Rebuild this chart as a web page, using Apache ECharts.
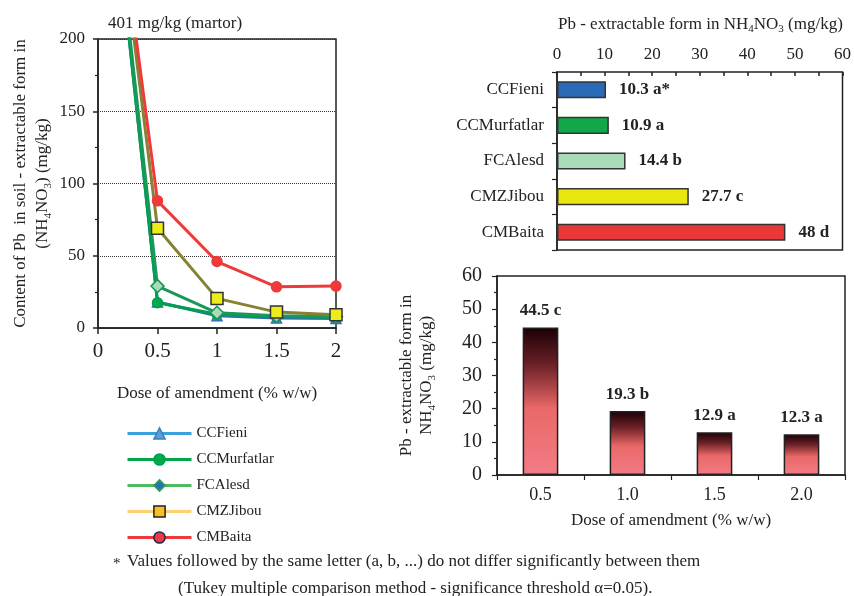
<!DOCTYPE html>
<html><head><meta charset="utf-8">
<script src="https://cdn.jsdelivr.net/npm/echarts@6/dist/echarts.min.js"></script>
<style>html,body{margin:0;padding:0;background:#fff}#c{width:854px;height:596px}</style>
</head><body><div id="c"></div>
<script>
// ---- data ----
var doses = [0, 0.5, 1, 1.5, 2];
var lineNames = ['CCFieni', 'CCMurfatlar', 'FCAlesd', 'CMZJibou', 'CMBaita'];
var ccFieni = [401, 18, 8.5, 7, 6.5];
var ccMurfatlar = [401, 17.5, 9.5, 8, 7.5];
var fcAlesd = [401, 29, 10.5, 8.5, 8];
var cmzJibou = [401, 69, 20.5, 11, 9.2];
var cmBaita = [401, 88, 46, 28.5, 29];

var amendments = ['CCFieni', 'CCMurfatlar', 'FCAlesd', 'CMZJibou', 'CMBaita'];
var amendmentMeans = [10.3, 10.9, 14.4, 27.7, 48];
var amendmentLetters = ['a*', 'a', 'b', 'c', 'd'];

var doseCats = ['0.5', '1.0', '1.5', '2.0'];
var doseMeans = [44.5, 19.3, 12.9, 12.3];
var doseLetters = ['c', 'b', 'a', 'a'];

// ---- styles ----
var F = 'Liberation Serif';
var txt = '#222';
var lineStyles = [
  {line: '#2f6fb8', sym: 'triangle', fill: '#4a90d0', border: '#2f6fb8', size: 10,
   lgLine: '#3aa0e0', lgFill: '#5aa0d8', lgBorder: '#3a80c0'},
  {line: '#00a04a', sym: 'circle', fill: '#00a850', border: '#00a04a', size: 10,
   lgLine: '#00a84a', lgFill: '#00a850', lgBorder: '#00a04a'},
  {line: '#18985a', sym: 'diamond', fill: '#a8dcb8', border: '#18985a', size: 13,
   lgLine: '#50b860', lgFill: '#2a70b0', lgBorder: '#30a050'},
  {line: '#858232', sym: 'rect', fill: '#ecec18', border: '#333', size: 12,
   lgLine: '#ffd070', lgFill: '#f8c020', lgBorder: '#222'},
  {line: '#ee3a3a', sym: 'circle', fill: '#ee3a3a', border: '#ee3a3a', size: 10,
   lgLine: '#ee3a3a', lgFill: '#ee3a3a', lgBorder: '#1a2a5a'}
];
var lineData = [ccFieni, ccMurfatlar, fcAlesd, cmzJibou, cmBaita];

var lineSeries = lineData.map(function (vals, i) {
  var s = lineStyles[i];
  return {
    name: lineNames[i], type: 'line', xAxisIndex: 0, yAxisIndex: 0,
    data: vals.map(function (v, j) {
      var it = {value: [doses[j], v]};
      if (j === 0) it.symbol = 'none';
      return it;
    }),
    symbol: s.sym, symbolSize: s.size,
    lineStyle: {color: s.line, width: 3},
    itemStyle: {color: s.fill, borderColor: s.border, borderWidth: 1.5},
    clip: true, animation: false, z: 2 + i
  };
});

var barColors = ['#2a68b8', '#10a848', '#a8dcb8', '#e8e810', '#e83838'];
var hbarData = amendmentMeans.map(function (v, i) {
  return {value: v, itemStyle: {color: barColors[i]}};
});

var grad = new echarts.graphic.LinearGradient(0, 0, 0, 1, [
  {offset: 0, color: '#1a0006'},
  {offset: 0.25, color: '#6a2026'},
  {offset: 0.55, color: '#ea6868'},
  {offset: 1, color: '#f27c86'}
]);

var chart = echarts.init(document.getElementById('c'), null, {renderer: 'canvas'});
var subRich = {
  a: {fontFamily: F, fontSize: 17, fontWeight: 'normal', color: txt},
  s: {fontFamily: F, fontSize: 11, fontWeight: 'normal', color: txt, padding: [10, 0, 0, 0]}
};

chart.setOption({
  backgroundColor: '#fff',
  animation: false,
  textStyle: {fontFamily: F},
  title: [
    {text: '401 mg/kg (martor)', left: 103, top: 10,
     textStyle: {fontFamily: F, fontSize: 17, fontWeight: 'normal', color: txt}},
    {text: '{a|Pb - extractable form in NH}{s|4}{a|NO}{s|3}{a| (mg/kg)}', left: 553, top: 9,
     textStyle: {rich: subRich}}
  ],
  legend: {
    orient: 'vertical', left: 121, top: 421, itemGap: 11, itemWidth: 64, itemHeight: 14,
    textStyle: {fontFamily: F, fontSize: 15, color: txt},
    data: lineNames.map(function (n, i) {
      var s = lineStyles[i];
      return {name: n,
        itemStyle: {color: s.lgFill, borderColor: s.lgBorder, borderWidth: 1.5},
        lineStyle: {color: s.lgLine, width: 3}};
    })
  },
  grid: [
    {left: 98, right: 518, top: 39, bottom: 268, show: true, borderColor: '#222', borderWidth: 1.5},
    {left: 557, right: 10, top: 72, bottom: 346, show: true, borderColor: '#222', borderWidth: 1.5},
    {left: 497, right: 9, top: 276, bottom: 121, show: true, borderColor: '#222', borderWidth: 1.5}
  ],
  xAxis: [
    {gridIndex: 0, type: 'value', min: 0, max: 2, interval: 0.5,
     axisLine: {lineStyle: {color: '#222', width: 1.5}},
     axisTick: {show: true, length: 6, lineStyle: {color: '#222', width: 1.5}},
     axisLabel: {fontFamily: F, fontSize: 21, color: txt, margin: 13},
     splitLine: {show: false},
     name: 'Dose of amendment (% w/w)', nameLocation: 'middle', nameGap: 57,
     nameTextStyle: {fontFamily: F, fontSize: 17, color: txt}},
    {gridIndex: 1, type: 'value', position: 'top', min: 0, max: 60, interval: 10,
     axisLine: {lineStyle: {color: '#222', width: 1.5}},
     axisTick: {show: true, inside: true, length: 4, lineStyle: {color: '#222', width: 1.5}},
     minorTick: {show: true, splitNumber: 2, length: 4, lineStyle: {color: '#222', width: 1.5}},
     axisLabel: {fontFamily: F, fontSize: 17, color: txt, margin: 9},
     splitLine: {show: false}},
    {gridIndex: 2, type: 'category', data: doseCats,
     axisLine: {lineStyle: {color: '#222', width: 1.5}},
     axisTick: {show: true, length: 5, lineStyle: {color: '#222', width: 1.2}},
     axisLabel: {fontFamily: F, fontSize: 18, color: txt, margin: 11},
     name: 'Dose of amendment (% w/w)', nameLocation: 'middle', nameGap: 37,
     nameTextStyle: {fontFamily: F, fontSize: 17, color: txt}}
  ],
  yAxis: [
    {gridIndex: 0, type: 'value', min: 0, max: 200, interval: 50,
     axisLine: {show: true, lineStyle: {color: '#222', width: 1.5}},
     axisTick: {show: true, length: 5, lineStyle: {color: '#222', width: 1.5}},
     minorTick: {show: true, splitNumber: 2, length: 3, lineStyle: {color: '#222', width: 1.2}},
     axisLabel: {fontFamily: F, fontSize: 17, color: txt, margin: 13},
     splitLine: {show: true, lineStyle: {color: '#333', type: 'dotted', width: 1}},
     name: '{a|Content of Pb  in soil - extractable form in}\n{a|(NH}{s|4}{a|NO}{s|3}{a|) (mg/kg)}',
     nameLocation: 'middle', nameGap: 44, nameRotate: 90,
     nameTextStyle: {rich: subRich, lineHeight: 22, align: 'center'}},
    {gridIndex: 1, type: 'category', data: amendments, inverse: true,
     axisLine: {show: true, lineStyle: {color: '#222', width: 1.5}},
     axisTick: {show: true, length: 5, lineStyle: {color: '#222', width: 1.2}},
     axisLabel: {fontFamily: F, fontSize: 17, color: txt, margin: 13}},
    {gridIndex: 2, type: 'value', min: 0, max: 60, interval: 10,
     axisLine: {show: true, lineStyle: {color: '#222', width: 1.5}},
     axisTick: {show: true, length: 5, lineStyle: {color: '#222', width: 1.2}},
     minorTick: {show: true, splitNumber: 2, length: 3, lineStyle: {color: '#222', width: 1.2}},
     axisLabel: {fontFamily: F, fontSize: 20, color: txt, margin: 15},
     splitLine: {show: false},
     name: '{a|Pb - extractable form in}\n{a|NH}{s|4}{a|NO}{s|3}{a| (mg/kg)}',
     nameLocation: 'middle', nameGap: 60, nameRotate: 90,
     nameTextStyle: {rich: subRich, lineHeight: 20, align: 'center'}}
  ],
  series: lineSeries.concat([
    {type: 'bar', xAxisIndex: 1, yAxisIndex: 1, data: hbarData, barWidth: '48%',
     itemStyle: {borderColor: '#333', borderWidth: 1.5},
     label: {show: true, position: 'right', distance: 13,
       fontFamily: F, fontSize: 17, fontWeight: 'bold', color: txt,
       formatter: function (p) { return p.value + ' ' + amendmentLetters[p.dataIndex]; }}},
    {type: 'bar', xAxisIndex: 2, yAxisIndex: 2, data: doseMeans, barWidth: '41%',
     itemStyle: {color: grad, borderColor: '#222', borderWidth: 1.5},
     label: {show: true, position: 'top', distance: 8,
       fontFamily: F, fontSize: 17, fontWeight: 'bold', color: txt,
       formatter: function (p) { return p.value + ' ' + doseLetters[p.dataIndex]; }}}
  ]),
  graphic: [
    {type: 'text', left: 113, top: 557, style: {text: '*', fontFamily: F, fontSize: 15, fill: txt}},
    {type: 'text', left: 127, top: 553, style: {text: 'Values followed by the same letter (a, b, ...) do not differ significantly between them', fontFamily: F, fontSize: 17, fill: txt}},
    {type: 'text', left: 178, top: 580, style: {text: '(Tukey multiple comparison method - significance threshold \u03b1=0.05).', fontFamily: F, fontSize: 17, fill: txt}}
  ]
});
</script></body></html>
